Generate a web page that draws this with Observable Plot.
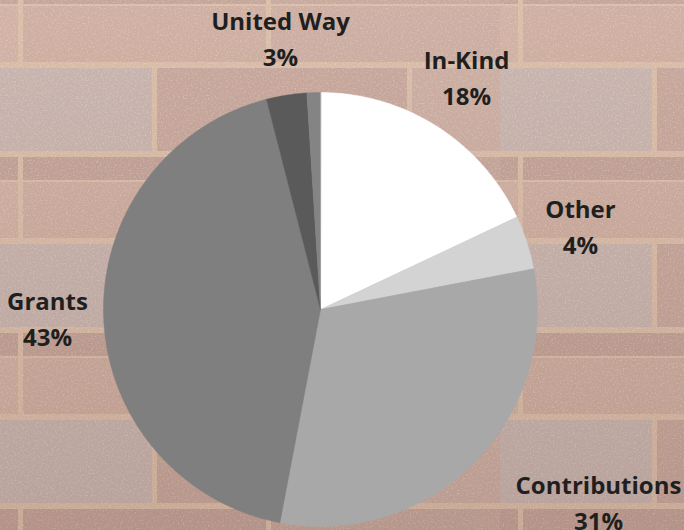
<!DOCTYPE html>
<html>
<head>
<meta charset="utf-8">
<script src="https://cdn.jsdelivr.net/npm/d3@7"></script>
<script src="https://cdn.jsdelivr.net/npm/@observablehq/plot@0.6"></script>
<style>
  html, body { margin: 0; padding: 0; width: 684px; height: 530px; overflow: hidden; }
  body {
    background-color: #c3a196;
    background-image: url("data:image/svg+xml,%3Csvg xmlns='http://www.w3.org/2000/svg' width='500' height='176'%3E%3Crect width='500' height='176' fill='%23d6b9a3'/%3E%3Crect x='0' y='2' width='18' height='56' fill='%23cdac9f'/%3E%3Crect x='23' y='2' width='243' height='56' fill='%23caa99c'/%3E%3Crect x='271' y='2' width='229' height='56' fill='%23c8a89c'/%3E%3Crect x='0' y='64' width='152' height='83' fill='%23c4b0aa'/%3E%3Crect x='157' y='64' width='250' height='83' fill='%23c3a297'/%3E%3Crect x='412' y='64' width='88' height='83' fill='%23c8a99d'/%3E%3Crect x='0' y='153' width='18' height='23' fill='%23bf9e93'/%3E%3Crect x='23' y='153' width='243' height='23' fill='%23bf9e93'/%3E%3Crect x='271' y='153' width='229' height='23' fill='%23c2a397'/%3E%3C/svg%3E");
    background-repeat: repeat;
    background-position: 0 4px;
  }
  .grain { position: absolute; left: 0; top: 0; width: 684px; height: 530px; opacity: 0.35;
    background-image: url("data:image/svg+xml,%3Csvg xmlns='http://www.w3.org/2000/svg' width='684' height='530'%3E%3Cfilter id='n'%3E%3CfeTurbulence type='fractalNoise' baseFrequency='0.6' numOctaves='2' seed='3'/%3E%3CfeColorMatrix values='0 0 0 0 1 0 0 0 0 0.95 0 0 0 0 0.9 0 0 0 2.2 -1.1'/%3E%3C/filter%3E%3Crect width='684' height='530' filter='url(%23n)'/%3E%3C/svg%3E"); }
  .shade { position: absolute; left: 0; top: 0; width: 684px; height: 530px;
    background: linear-gradient(to bottom, rgba(255,240,230,0.10), rgba(110,75,65,0.14)); }
  #chart { position: absolute; left: 0; top: 0; }
</style>
</head>
<body>
<div class="grain"></div>
<div class="shade"></div>
<div id="chart"></div>
<script>
// Data
const categories = ["In-Kind", "Other", "Contributions", "Grants", "United Way", ""];
const values = [18, 4, 31, 43, 3, 1];
const colors = ["#ffffff", "#d3d3d3", "#a8a8a8", "#7f7f7f", "#5a5a5a", "#848484"];
const labels = ["In-Kind\n18%", "Other\n4%", "Contributions\n31%", "Grants\n43%", "United Way\n3%", ""];

// Layout (label anchors relative to pie centre, in pixels, y up)
const labelX = [146, 260, 278, -273, -40, 0];
const labelY = [234, 85, -191, -7, 273, 0];
const radius = 217;

// Build slice polygons from the values
const pie = d3.pie().sort(null).value(d => d)(values);
const slicePts = [];
pie.forEach((p, i) => {
  const a0 = p.startAngle, a1 = p.endAngle;
  const n = Math.max(2, Math.ceil((a1 - a0) / 0.01));
  slicePts.push({slice: i, x: 0, y: 0, fill: colors[i]});
  for (let k = 0; k <= n; k++) {
    const a = a0 + (a1 - a0) * k / n;
    slicePts.push({slice: i, x: radius * Math.sin(a), y: radius * Math.cos(a), fill: colors[i]});
  }
});

const labelData = categories.map((c, i) => ({text: labels[i], x: labelX[i], y: labelY[i]})).filter(d => d.text);

const chart = Plot.plot({
  width: 684,
  height: 530,
  margin: 0,
  x: {domain: [-320, 364], range: [0, 684], axis: null},
  y: {domain: [-221, 309], range: [530, 0], axis: null},
  color: {type: "identity"},
  style: {background: "transparent", fontFamily: "'Open Sans', Lato, sans-serif"},
  marks: [
    Plot.line(slicePts, {x: "x", y: "y", z: "slice", fill: "fill", stroke: "fill", strokeWidth: 0.5, curve: "linear-closed"}),
    Plot.text(labelData, {x: "x", y: "y", text: "text", fontSize: 24, fontWeight: 700, fill: "#1f1f1f", lineHeight: 1.5, textAnchor: "middle"})
  ]
});
document.getElementById("chart").appendChild(chart);
</script>
</body>
</html>
